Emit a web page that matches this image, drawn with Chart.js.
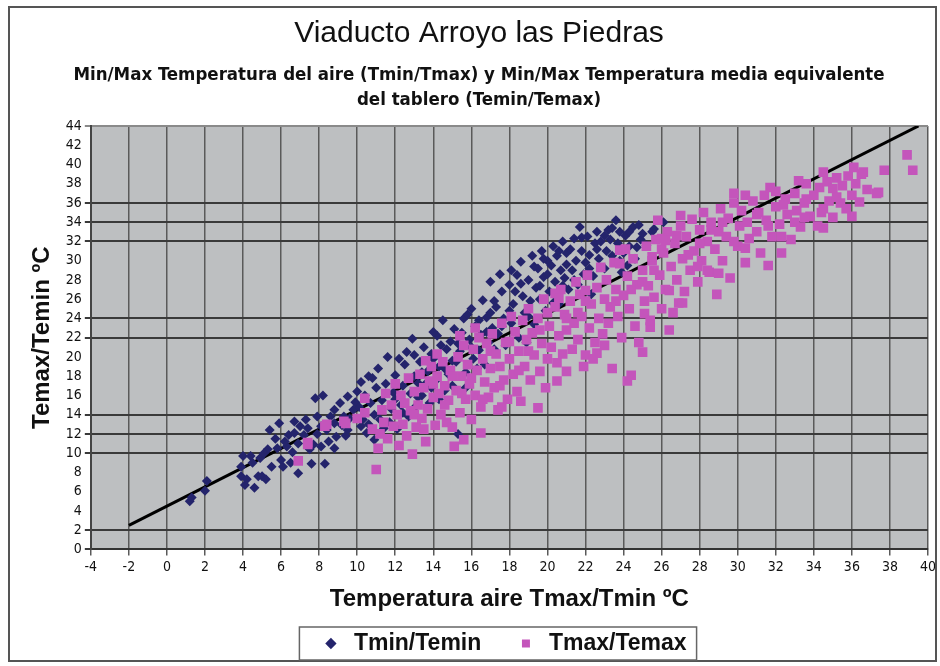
<!DOCTYPE html>
<html>
<head>
<meta charset="utf-8">
<script src="https://cdn.jsdelivr.net/npm/chart.js@4.4.1/dist/chart.umd.min.js"></script>
<style>
  html, body { margin: 0; padding: 0; background: #fff; }
  #wrap { position: relative; width: 940px; height: 666px; }
</style>
</head>
<body>
<div id="wrap"><canvas id="chart" width="940" height="666"></canvas></div>
<script>
// Tmin (air) vs Temin (deck)
var tminPoints = [
  [1.2,5.0],[1.3,5.4],[2.0,6.1],[2.1,7.1],
  [3.9,7.6],[3.9,8.6],[4.0,9.7],[4.1,6.7],[4.2,7.3],[4.4,9.7],[4.6,6.4],[4.8,7.6],[5.0,7.6],[5.2,7.3],
  [5.3,10.4],[5.4,12.4],[5.5,8.6],[4.5,9.0],[4.9,9.5],[5.1,10.0],
  [5.8,10.5],[5.9,13.1],[6.0,9.3],[6.1,8.6],[6.3,10.7],[6.4,11.9],[6.5,9.0],[6.7,12.1],[6.7,13.3],
  [6.9,7.9],[7.0,12.8],[6.2,11.2],[6.6,10.1],[5.7,11.5],[6.9,11.0],
  [7.2,11.9],[7.5,10.4],[7.6,8.9],[7.7,10.9],[7.8,15.7],[7.9,13.8],[8.1,10.7],[8.1,12.8],[8.2,16.0],
  [8.3,8.9],[8.4,12.4],[8.8,10.5],[8.8,13.1],[8.8,14.5],[8.9,11.7],[7.4,12.6],[7.9,12.0],[8.5,11.2],
  [8.6,13.8],[7.3,13.5],
  [9.1,15.2],[9.3,13.8],[9.5,15.9],[9.5,12.4],[9.8,14.5],[10.0,16.4],[10.2,17.4],[10.3,13.5],[10.5,12.1],
  [10.6,18.0],[10.8,17.8],[10.9,11.4],[11.0,16.8],[9.2,12.9],[9.6,13.6],[9.9,15.3],[10.1,14.8],[10.4,16.0],
  [10.7,15.2],[10.9,14.0],[9.4,11.8],[10.2,12.8],[10.6,13.0],
  [11.2,13.5],[11.3,15.5],[11.5,17.2],[11.6,20.0],[11.8,14.6],[11.9,16.3],[12.0,18.1],[12.1,12.5],
  [12.3,15.0],[12.4,17.0],[12.5,19.2],[12.7,13.8],[12.8,16.2],[12.9,21.9],[13.0,18.0],[13.1,14.9],
  [11.4,12.6],[12.2,19.8],[12.6,20.5],[13.2,17.3],[11.1,18.8],[11.7,13.2],[12.0,15.6],[12.4,14.2],
  [13.3,19.5],[13.4,16.0],[13.5,21.0],[13.7,18.5],[13.8,15.2],[13.9,20.3],[14.1,17.5],[14.2,22.2],
  [14.3,19.0],[14.5,23.8],[14.6,16.5],[14.7,20.8],[14.8,18.2],[14.9,21.6],[15.0,17.0],[13.6,17.2],
  [14.0,19.8],[14.4,21.2],[15.1,22.9],[13.2,15.8],[13.0,20.2],[13.4,18.4],[13.9,16.8],[14.3,15.6],
  [14.6,18.8],[14.0,22.6],
  [15.2,19.5],[15.3,12.0],[15.4,20.6],[15.6,24.0],[15.7,18.4],[15.8,24.4],[15.9,21.8],[16.1,19.8],
  [16.2,23.2],[16.4,20.7],[16.5,22.3],[16.6,25.9],[16.7,19.2],[16.8,24.1],[16.9,21.5],[17.0,27.8],
  [17.1,23.0],[15.5,22.5],[16.0,25.0],[16.3,18.8],[17.2,20.8],[15.0,19.6],[15.3,21.4],[15.7,16.8],
  [16.0,21.0],[16.4,23.8],[16.8,22.6],[17.0,24.6],
  [17.3,25.2],[17.4,22.4],[17.6,26.8],[17.7,24.0],[17.8,21.2],[18.0,27.5],[18.1,23.5],[18.2,25.5],
  [18.4,28.5],[18.5,22.0],[18.6,29.9],[18.7,26.3],[18.8,24.6],[19.0,28.0],[19.1,25.8],[19.2,30.5],
  [19.3,23.4],[19.4,27.2],[17.5,28.6],[18.9,21.5],[17.2,25.8],[17.6,23.2],[18.0,24.8],[18.3,26.8],
  [18.6,27.6],[19.0,24.2],[18.1,29.0],
  [19.5,29.2],[19.6,26.0],[19.7,31.0],[19.8,28.3],[20.0,30.0],[20.1,26.8],[20.2,29.5],[20.3,31.5],
  [20.4,27.8],[20.5,30.5],[20.6,25.5],[20.7,29.0],[20.8,32.0],[20.9,28.2],[21.0,30.8],[19.9,24.8],
  [20.5,26.2],[21.1,27.0],[19.3,29.4],[19.6,27.4],[20.0,28.6],[20.3,25.6],[20.6,31.0],[21.0,29.6],
  [20.8,27.4],[19.8,30.2],
  [21.2,31.2],[21.3,29.0],[21.4,32.3],[21.5,30.0],[21.6,27.5],[21.7,33.5],[21.8,31.0],[22.0,29.8],
  [22.1,32.5],[22.2,30.6],[22.4,28.4],[22.5,31.8],[22.6,33.0],[22.7,30.2],[22.8,32.0],[23.0,29.2],
  [23.1,31.0],[22.3,26.5],[21.9,28.6],[23.2,33.2],[21.4,28.0],[21.8,32.4],[22.2,29.2],[22.6,31.2],
  [23.0,32.6],
  [23.3,32.2],[23.4,30.5],[23.6,34.2],[23.7,31.8],[23.8,33.0],[24.0,30.8],[24.1,32.6],[24.3,31.5],
  [24.5,33.5],[24.6,30.2],[24.8,33.7],[24.9,32.2],[25.2,31.6],[25.5,33.0],[25.6,33.3],[26.1,34.0],
  [24.2,29.5],[23.9,28.8],[23.4,33.4],[23.8,30.0],[24.3,33.0],[24.7,31.4],[25.0,32.8]
];

// Tmax (air) vs Temax (deck)
var tmaxPoints = [
  [6.9,9.2],[7.4,10.9],[7.4,11.1],[8.3,12.8],[8.4,13.0],[9.3,13.3],[9.4,13.1],[10.4,15.7],[10.4,14.2],
  [11.0,8.3],[10.0,13.6],[10.8,12.5],
  [11.1,10.5],[11.2,12.0],[11.3,14.5],[11.4,13.2],[11.5,16.2],[11.6,11.5],[11.8,15.0],[11.9,12.8],
  [12.0,17.2],[12.1,14.0],[12.2,10.8],[12.3,16.0],[12.4,13.0],[12.5,15.2],[12.6,11.8],[12.7,17.8],
  [12.8,14.4],[12.9,9.9],[13.0,16.4],[13.1,12.7],[13.0,14.0],[13.5,12.5],
  [13.2,15.0],[13.3,18.2],[13.4,13.6],[13.5,16.8],[13.6,11.2],[13.7,14.6],[13.8,17.5],[13.9,19.0],
  [14.0,15.8],[14.1,12.9],[14.2,18.0],[14.3,16.2],[14.4,14.0],[14.5,19.5],[14.6,17.0],[14.7,13.2],
  [14.8,15.5],[14.9,18.6],[15.0,12.7],[15.1,10.7],[13.6,19.6],[14.2,20.3],[14.0,17.2],[14.6,15.0],
  [15.2,16.5],[15.3,20.0],[15.4,14.2],[15.5,18.0],[15.6,11.4],[15.6,21.2],[15.7,15.6],[15.8,19.2],
  [15.9,17.2],[16.0,13.5],[16.1,20.8],[16.2,16.0],[16.3,18.6],[16.4,22.0],[16.5,12.1],[16.5,14.8],
  [16.6,19.8],[16.7,17.4],[16.8,21.4],[16.9,15.8],[17.0,18.8],[16.2,23.0],[15.4,22.2],[15.0,18.0],
  [15.5,16.2],[16.0,17.8],[16.6,15.6],[17.0,20.6],
  [17.1,22.4],[17.2,16.8],[17.3,20.3],[17.4,14.5],[17.5,19.0],[17.6,23.5],[17.7,17.6],[17.8,21.5],
  [17.9,15.6],[18.0,19.8],[18.1,24.2],[18.2,18.2],[18.3,22.6],[18.4,16.4],[18.5,20.6],[18.6,15.4],
  [18.7,23.8],[18.8,19.0],[18.9,21.8],[19.0,25.0],[17.6,14.8],[19.1,17.6],[17.5,17.0],[18.0,21.6],
  [18.5,18.6],[19.0,20.6],
  [19.2,22.5],[19.3,20.2],[19.5,14.7],[19.5,24.0],[19.6,18.5],[19.7,21.4],[19.8,26.0],[20.0,19.8],
  [20.1,23.2],[20.2,21.0],[20.4,25.2],[20.5,17.5],[20.6,22.2],[20.7,27.0],[20.8,20.3],[20.9,24.4],
  [21.0,18.5],[21.0,22.8],[20.4,26.6],[19.9,16.8],[19.6,22.8],[20.0,24.6],[20.5,19.4],[21.0,24.0],
  [20.6,26.1],
  [21.2,25.8],[21.3,20.8],[21.4,23.5],[21.5,27.8],[21.6,21.8],[21.7,26.5],[21.8,24.2],[22.0,20.2],
  [22.1,28.5],[22.2,23.0],[22.3,25.5],[22.5,21.5],[22.6,20.4],[22.6,27.2],[22.7,24.0],[22.8,29.3],
  [22.9,22.4],[23.0,26.0],[23.1,28.0],[23.2,23.5],[21.9,19.0],[21.6,24.6],[22.0,25.8],[22.4,19.8],
  [23.0,21.2],[22.0,26.9],
  [23.3,25.2],[23.4,18.8],[23.5,29.8],[23.6,27.0],[23.7,24.2],[23.8,29.7],[23.9,22.0],[24.0,26.4],
  [24.2,17.5],[24.2,28.4],[24.3,25.0],[24.4,18.1],[24.5,30.2],[24.6,23.2],[24.7,27.5],[24.8,21.5],
  [25.0,20.5],[25.0,29.0],[25.1,25.8],[24.1,31.2],[23.6,25.8],[24.4,27.0],[25.0,27.8],[23.8,31.1],
  [25.1,24.5],[25.4,23.1],
  [25.2,31.5],[25.3,27.4],[25.4,23.8],[25.5,30.0],[25.6,26.2],[25.7,32.2],[25.9,28.5],[26.0,25.0],
  [26.1,30.8],[26.2,27.0],[26.3,33.0],[26.5,29.4],[26.6,24.6],[26.7,31.8],[26.8,28.0],[27.0,33.6],
  [27.1,30.2],[26.4,22.8],[25.8,34.2],[25.6,29.0],[26.0,31.2],[26.8,32.6],[26.0,32.3],[26.2,32.1],
  [25.5,30.4],[26.9,25.6],[27.0,34.7],[26.4,26.9],[27.1,25.6],
  [27.2,26.8],[27.3,32.5],[27.5,29.0],[27.6,34.3],[27.7,31.0],[27.9,27.8],[28.0,33.2],[28.1,30.0],
  [28.2,35.0],[28.4,32.0],[28.5,28.8],[28.6,34.0],[28.8,31.2],[28.9,26.5],[29.0,33.0],[29.1,35.4],
  [29.2,30.0],[29.4,32.5],[27.4,30.6],[28.0,31.8],[28.6,33.2],[29.2,34.0],[29.0,28.7],[27.9,29.4],
  [28.4,29.0],
  [29.5,34.4],[29.6,28.2],[29.8,36.0],[30.0,31.5],[30.1,33.6],[30.2,35.2],[30.4,29.8],[30.5,34.0],
  [30.6,32.3],[30.8,36.2],[31.0,33.0],[31.1,35.0],[31.2,30.8],[31.4,36.8],[31.5,34.2],[31.6,29.5],
  [31.8,32.5],[32.0,35.6],[32.0,37.2],[29.8,32.0],[30.4,36.8],[31.0,34.8],[31.6,33.6],[29.8,37.0],
  [31.7,37.6],[30.4,31.3],
  [32.2,33.8],[32.3,30.8],[32.5,36.4],[32.6,34.8],[32.8,32.2],[33.0,37.0],[33.1,35.2],[33.3,33.5],
  [33.5,36.0],[33.6,38.0],[33.8,34.6],[34.0,36.8],[34.2,33.6],[34.3,37.6],[34.5,35.4],[34.7,38.2],
  [34.8,36.2],[35.0,34.5],[35.0,37.5],[32.4,35.8],[33.0,34.0],[33.6,36.4],[34.4,35.0],[33.2,38.3],
  [34.5,39.2],[34.5,33.4],[32.3,32.5],[33.5,34.5],
  [35.2,38.6],[35.4,36.0],[35.5,37.8],[35.7,35.4],[35.8,38.8],[36.0,36.8],[36.2,38.0],[36.4,36.1],
  [36.5,39.0],[36.8,37.4],[37.4,37.1],[37.7,39.4],[38.9,41.0],[39.2,39.4],[36.0,34.6],[35.2,36.6],
  [36.1,39.7],[36.6,39.2],[37.3,37.0]
];

// reference line drawn across the plot
var fitX = [-2, 39.5];
var fitY = [2.5, 44];

var xTicks = { min: -4, max: 40, step: 2 };
var yTicks = { min: 0, max: 44, step: 2 };
// only these horizontal grid lines show on the original
var yGridShown = [0, 2, 10, 12, 14, 22, 24, 32, 34, 36, 44];

var chartTitle = 'Viaducto Arroyo las Piedras';
var chartSubtitle = [
  'Min/Max Temperatura del aire (Tmin/Tmax) y Min/Max Temperatura media equivalente',
  'del tablero (Temin/Temax)'
];
var xTitle = 'Temperatura aire Tmax/Tmin \u00baC';
var yTitle = 'Temax/Temin \u00baC';
var seriesNames = ['Tmin/Temin', 'Tmax/Temax'];

var NARROW = "'Liberation Sans Narrow', 'DejaVu Sans Condensed', 'Liberation Sans', Arial, sans-serif";
var SANS = "'Liberation Sans', Arial, sans-serif";

function toXY(list) {
  return list.map(function(p) { return { x: p[0], y: p[1] }; });
}

var plotBackground = {
  id: 'plotBackground',
  beforeDraw: function(chart) {
    var a = chart.chartArea;
    var ctx = chart.ctx;
    ctx.save();
    ctx.fillStyle = '#bdbfc1';
    ctx.fillRect(a.left, a.top, a.right - a.left, a.bottom - a.top);
    ctx.restore();
  }
};

// the legend sits a little right of centre in the original
var legendShift = {
  id: 'legendShift',
  afterLayout: function(chart) {
    chart.legend.left += 24;
    chart.legend.right += 24;
  }
};

var frames = {
  id: 'frames',
  afterDraw: function(chart) {
    var ctx = chart.ctx;
    ctx.save();
    ctx.strokeStyle = '#555';
    ctx.lineWidth = 2;
    ctx.strokeRect(9, 7, 927, 654);

    var boxes = chart.legend.legendHitBoxes;
    if (boxes && boxes.length) {
      var first = boxes[0], last = boxes[boxes.length - 1];
      var x0 = first.left - 20, x1 = last.left + last.width + 10;
      var y0 = first.top - 5, y1 = first.top + first.height + 5;
      ctx.strokeStyle = '#666';
      ctx.lineWidth = 1.5;
      ctx.strokeRect(x0, y0, x1 - x0, y1 - y0);
    }
    ctx.restore();
  }
};

var ctx = document.getElementById('chart').getContext('2d');
var chart = new Chart(ctx, {
  type: 'scatter',
  data: {
    datasets: [{
      label: seriesNames[0],
      data: toXY(tminPoints),
      pointStyle: 'rectRot',
      pointRadius: 5,
      backgroundColor: '#24246c',
      borderWidth: 0,
      order: 2
    }, {
      label: seriesNames[1],
      data: toXY(tmaxPoints),
      pointStyle: 'rect',
      pointRadius: 6.8,
      backgroundColor: '#c455bb',
      borderWidth: 0,
      order: 1
    }, {
      type: 'line',
      label: 'fit',
      data: fitX.map(function(x, i) { return { x: x, y: fitY[i] }; }),
      showLine: true,
      borderColor: '#000',
      borderWidth: 3,
      pointRadius: 0,
      fill: false,
      order: 3
    }]
  },
  options: {
    responsive: false,
    animation: false,
    layout: { padding: { left: 22, right: 4, top: 0, bottom: 1 } },
    plugins: {
      title: {
        display: true,
        text: chartTitle,
        color: '#111',
        font: { family: SANS, size: 30, weight: 'normal', lineHeight: 1.2 },
        padding: { top: 16, bottom: 11 }
      },
      subtitle: {
        display: true,
        text: chartSubtitle,
        color: '#111',
        font: { family: NARROW, size: 18.5, weight: 'bold', lineHeight: 1.35 },
        padding: { top: 0, bottom: 13 }
      },
      legend: {
        position: 'bottom',
        labels: {
          usePointStyle: true,
          boxHeight: 8,
          padding: 14,
          color: '#111',
          font: { family: SANS, size: 23, weight: 'bold' },
          filter: function(item) { return item.datasetIndex < 2; },
          sort: function(a, b) { return a.datasetIndex - b.datasetIndex; },
          generateLabels: function(chart) {
            var items = Chart.defaults.plugins.legend.labels.generateLabels(chart);
            items.forEach(function(it) {
              if (it.datasetIndex === 0) it.text = it.text + '   ';
            });
            return items;
          }
        }
      },
      tooltip: { enabled: false }
    },
    scales: {
      x: {
        type: 'linear',
        min: xTicks.min,
        max: xTicks.max,
        ticks: {
          stepSize: xTicks.step,
          autoSkip: false,
          maxRotation: 0,
          padding: 4,
          color: '#111',
          font: { family: NARROW, size: 14 }
        },
        grid: { color: '#5a5a5a', lineWidth: 1.5, tickLength: 6 },
        border: { color: '#333', width: 2 },
        title: {
          display: true,
          text: xTitle,
          color: '#111',
          font: { family: SANS, size: 24, weight: 'bold' },
          padding: { top: 5, bottom: 4 }
        }
      },
      y: {
        type: 'linear',
        min: yTicks.min,
        max: yTicks.max,
        ticks: {
          stepSize: yTicks.step,
          autoSkip: false,
          padding: 3,
          color: '#111',
          font: { family: NARROW, size: 14 }
        },
        grid: {
          tickLength: 6,
          lineWidth: 2,
          color: function(c) {
            if (!c.tick) return 'rgba(0,0,0,0)';
            if (c.tick.value === 44) return '#8a8a8a';
            return yGridShown.indexOf(c.tick.value) >= 0 ? '#3a3a3a' : 'rgba(0,0,0,0)';
          }
        },
        border: { color: '#444', width: 2 },
        title: {
          display: true,
          text: yTitle,
          color: '#111',
          font: { family: SANS, size: 24, weight: 'bold' },
          padding: { top: 6, bottom: 6 }
        }
      }
    }
  },
  plugins: [plotBackground, legendShift, frames]
});
</script>
</body>
</html>
